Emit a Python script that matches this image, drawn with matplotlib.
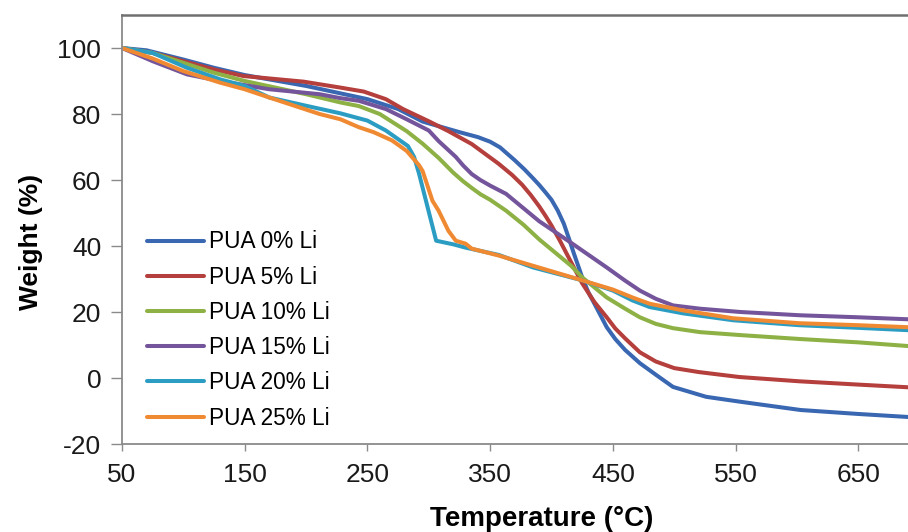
import matplotlib
matplotlib.use("Agg")
import matplotlib.pyplot as plt

# TGA curves of PUA with increasing Li content
T_0 = [50, 70, 100, 125, 150, 200, 250, 275, 295, 325, 340, 350, 358, 370, 378, 385, 390, 395, 400, 405, 410, 414, 418, 425, 430, 435, 445, 452, 460, 466, 472, 485, 499, 526, 554, 603, 650, 690, 700]
W_0 = [100, 99.3, 96.5, 94, 91.8, 88.5, 84.5, 81.5, 77.7, 74.5, 73, 71.6, 69.9, 66, 63.2, 60.5, 58.5, 56.3, 54, 50.8, 46.8, 42.5, 38, 30.5, 26, 22.5, 15.4, 11.8, 8.5, 6.5, 4.5, 1, -2.7, -5.7, -7.2, -9.7, -10.9, -11.8, -12]

T_5 = [50, 75, 100, 125, 149, 198, 228, 247, 265, 279, 300, 316, 335, 357, 368, 376, 383, 390, 395, 400, 407, 414, 425, 435, 445, 452, 460, 472, 485, 500, 520, 553, 602, 650, 690, 700]
W_5 = [100, 98.5, 96, 93.5, 91.5, 89.8, 88, 86.8, 84.5, 81.5, 77.8, 74.8, 70.9, 64.9, 61.5, 58.6, 55.5, 52, 49.2, 46.2, 41.5, 36.5, 28.7, 23, 18.4, 15, 12, 7.8, 5, 3, 1.8, 0.3, -1, -2, -2.8, -3]

T_10 = [50, 75, 100, 125, 150, 175, 200, 228, 243, 260, 282, 295, 308, 320, 328, 335, 342, 350, 363, 377, 390, 403, 416, 425, 445, 460, 472, 485, 499, 521, 554, 603, 650, 690, 700]
W_10 = [100, 98.5, 95.5, 92.5, 90, 88, 86, 83.5, 82.4, 80, 74.8, 71, 66.7, 62.2, 59.6, 57.6, 55.7, 54, 50.7, 46.5, 42, 38, 34, 30.5, 24.4, 21, 18.4, 16.4, 15.1, 13.9, 13, 11.8, 10.8, 9.7, 9.5]

T_15 = [50, 75, 103, 130, 170, 211, 228, 243, 265, 282, 300, 308, 322, 328, 335, 342, 350, 363, 390, 400, 417, 445, 460, 472, 485, 499, 521, 554, 603, 650, 690, 700]
W_15 = [100, 96, 92, 90, 87.5, 86, 84.8, 84, 81.5, 78.4, 75, 71.8, 67, 64.4, 61.8, 60, 58.3, 55.8, 47.5, 45, 40.7, 33.5, 29.5, 26.5, 24, 22, 21, 20, 19, 18.4, 17.8, 17.7]

T_20 = [50, 75, 103, 130, 150, 170, 200, 228, 250, 265, 283, 288, 292, 306, 320, 330, 357, 385, 425, 450, 466, 480, 507, 548, 602, 650, 690, 700]
W_20 = [100, 98.5, 94, 90.5, 88.5, 85, 82.5, 80.2, 78, 75, 70.3, 67, 62, 41.6, 40.5, 39.5, 37.3, 33.5, 29.6, 26.5, 23.5, 21.5, 19.6, 17.5, 16, 15.2, 14.5, 14.3]

T_25 = [50, 75, 100, 130, 150, 170, 211, 228, 243, 255, 270, 282, 292, 295, 303, 308, 316, 322, 330, 335, 357, 385, 425, 450, 466, 480, 507, 548, 602, 650, 690, 700]
W_25 = [100, 96.8, 93, 89.5, 87.5, 85, 80, 78.4, 76, 74.5, 72, 68.8, 64.5, 62.7, 53.7, 50.7, 44.6, 41.6, 40.7, 39.2, 37.1, 34, 29.6, 26.8, 24.4, 22.5, 20.5, 18.1, 16.6, 16, 15.4, 15.3]

LABELS = ["PUA 0% Li", "PUA 5% Li", "PUA 10% Li", "PUA 15% Li", "PUA 20% Li", "PUA 25% Li"]
COLORS = ["#3a67b1", "#b53f3c", "#8db144", "#74559b", "#2c9dc2", "#f08a32"]

X_TICKS = [50, 150, 250, 350, 450, 550, 650]
Y_TICKS = [-20, 0, 20, 40, 60, 80, 100]

plt.rcParams["font.family"] = ["Liberation Sans", "DejaVu Sans"]
plt.rcParams["axes.unicode_minus"] = False

fig = plt.figure(figsize=(9.08, 5.32), dpi=100)
# axes run a bit past the right edge, as in the cropped original
ax = fig.add_axes([122 / 908, 88 / 532, 859 / 908, 429 / 532])

series = [(T_0, W_0), (T_5, W_5), (T_10, W_10), (T_15, W_15), (T_20, W_20), (T_25, W_25)]
for (t, w), lab, col in zip(series, LABELS, COLORS):
    ax.plot(t, w, color=col, lw=2.9, label=lab, solid_joinstyle="round", solid_capstyle="round")

ax.set_xlim(50, 750)
ax.set_ylim(-20, 110)
ax.set_xticks(X_TICKS)
ax.set_yticks(Y_TICKS)

for s in ("left", "bottom", "top"):
    ax.spines[s].set_color("#8a8a8a")
    ax.spines[s].set_linewidth(1.3)
ax.spines["top"].set_color("#707070")
ax.spines["top"].set_linewidth(1.8)
ax.spines["right"].set_visible(False)

ax.tick_params(axis="both", direction="out", colors="#8a8a8a", labelcolor="#1a1a1a", labelsize=19)
ax.tick_params(axis="y", length=8, width=1, pad=7)
ax.tick_params(axis="x", length=5, width=1, pad=9)

ax.set_xlabel("Temperature (°C)", fontsize=20, fontweight="bold")
ax.xaxis.set_label_coords((542 - 122) / 859, -(506 - 444) / 429)
ax.set_ylabel("Weight (%)", fontsize=19, fontweight="bold")
ax.yaxis.set_label_coords(-(122 - 43) / 859, 0.47)

ax.legend(loc="center left", bbox_to_anchor=(25 / 859, (444 - 330) / 429),
          frameon=False, fontsize=16.3, handlelength=2.5, handletextpad=0.25,
          labelspacing=0.54, borderpad=0, borderaxespad=0)

fig.savefig("out.png", dpi=100)
